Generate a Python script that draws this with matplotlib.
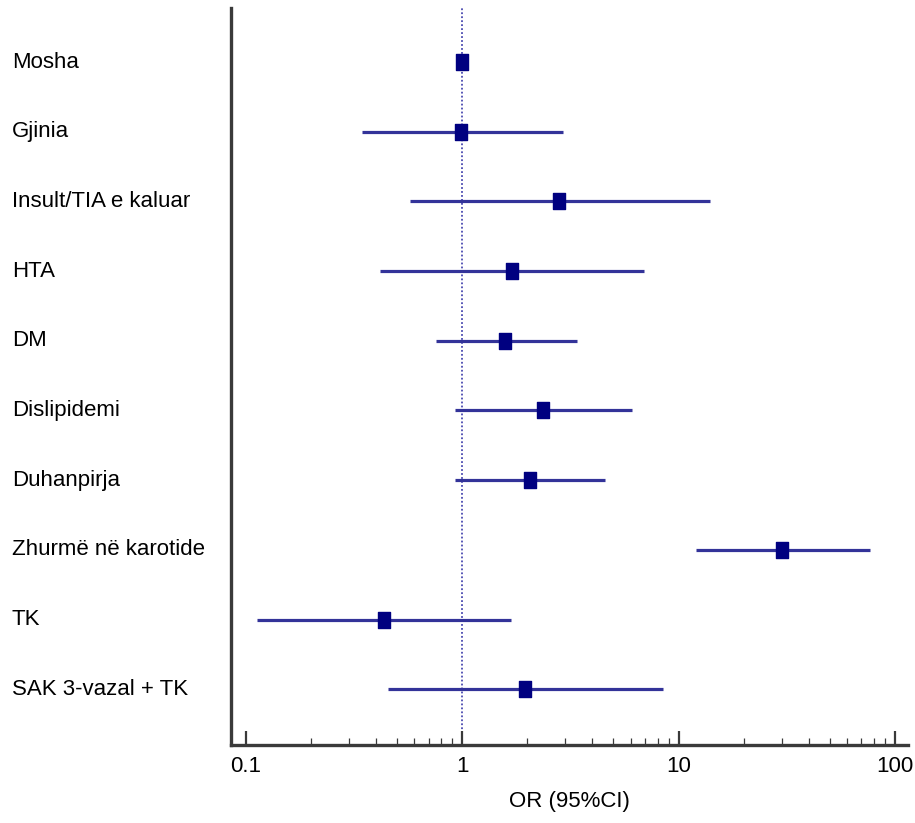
import matplotlib
matplotlib.use("Agg")
import matplotlib.pyplot as plt
import matplotlib.transforms as mtransforms
from matplotlib.path import Path
from matplotlib.ticker import FixedLocator, FixedFormatter, NullFormatter

labels = ["Mosha", "Gjinia", "Insult/TIA e kaluar", "HTA", "DM", "Dislipidemi",
          "Duhanpirja", "Zhurmë në karotide", "TK", "SAK 3-vazal + TK"]
odds_ratio = [1.0, 0.99, 2.79, 1.69, 1.58, 2.35, 2.06, 30.0, 0.435, 1.94]
ci_low = [1.0, 0.345, 0.573, 0.416, 0.76, 0.926, 0.926, 12.05, 0.112, 0.456]
ci_high = [1.0, 2.91, 14.0, 6.95, 3.39, 6.08, 4.58, 76.5, 1.685, 8.45]
xticks = [0.1, 1, 10, 100]
xtick_labels = ["0.1", "1", "10", "100"]
minor_ticks = [d * m for d in (0.1, 1, 10) for m in range(2, 10)]
xlabel = "OR (95%CI)"

plt.rcParams['font.family'] = ['Liberation Sans', 'DejaVu Sans']

W, H = 915, 823
fig = plt.figure(figsize=(W / 100, H / 100), dpi=100)
ax = fig.add_axes([231 / W, 1 - 745 / H, (908 - 231) / W, (745 - 8) / H])

ax.set_xscale('log')
ax.set_xlim(0.0853, 115)
ax.set_ylim(9.8, -0.775)

ax.axvline(1, color='#4a4ab0', linestyle=(0, (1, 1.2)), linewidth=1.3, zorder=1)

rect = Path([(-0.4, -0.5), (0.4, -0.5), (0.4, 0.5), (-0.4, 0.5), (-0.4, -0.5)],
            [Path.MOVETO, Path.LINETO, Path.LINETO, Path.LINETO, Path.CLOSEPOLY])

for i, (o, lo, hi) in enumerate(zip(odds_ratio, ci_low, ci_high)):
    ax.plot([lo, hi], [i, i], color='#333399', linewidth=2.3, solid_capstyle='butt', zorder=2)
    ax.plot([o], [i], marker=rect, markersize=11, color='#000080',
            markeredgecolor='#000080', linestyle='none', zorder=3)

trans = mtransforms.blended_transform_factory(fig.transFigure, ax.transData)
for i, lab in enumerate(labels):
    ax.text(12 / W, i, lab, transform=trans, ha='left', va='center',
            fontsize=16, color='black', clip_on=False)

for s in ['top', 'right']:
    ax.spines[s].set_visible(False)
for s in ['left', 'bottom']:
    ax.spines[s].set_linewidth(2.4)
    ax.spines[s].set_color('#3a3a3a')

ax.set_yticks([])
ax.xaxis.set_major_locator(FixedLocator(xticks))
ax.xaxis.set_major_formatter(FixedFormatter(xtick_labels))
ax.xaxis.set_minor_locator(FixedLocator(minor_ticks))
ax.xaxis.set_minor_formatter(NullFormatter())
ax.tick_params(axis='x', which='major', direction='in', length=10, width=1.6,
               color='#3a3a3a', labelsize=16, pad=8)
ax.tick_params(axis='x', which='minor', direction='in', length=5, width=0.9,
               color='#3a3a3a')
ax.set_xlabel(xlabel, fontsize=16, labelpad=10)

fig.savefig("out.png", dpi=100)
